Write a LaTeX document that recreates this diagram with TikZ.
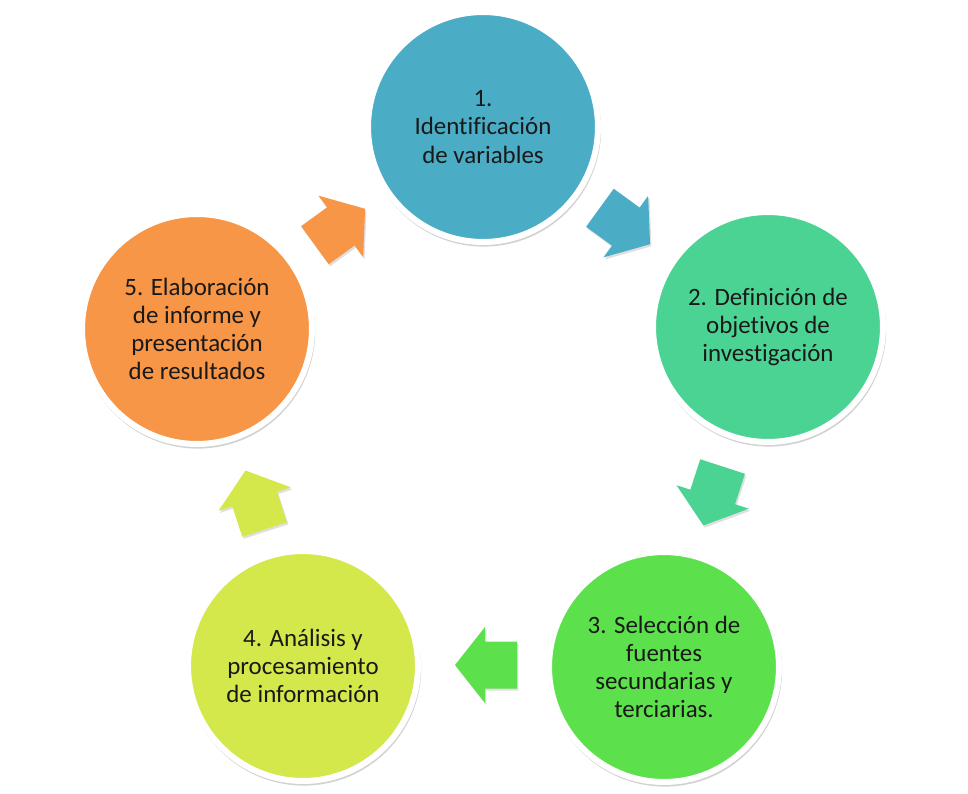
\documentclass[tikz,border=0pt]{standalone}
\usepackage{fontspec}
\setmainfont[Ligatures=NoCommon]{Carlito}
\usetikzlibrary{shadows}

\definecolor{stageone}{HTML}{4BACC6}
\definecolor{stagetwo}{HTML}{4BD394}
\definecolor{stagethree}{HTML}{5CE04C}
\definecolor{stagefour}{HTML}{D4E84B}
\definecolor{stagefive}{HTML}{F79646}

\tikzset{
  stage/.style={circle, draw=white, line width=0.12cm, minimum size=4.6cm,
    inner sep=0pt, align=center, text=black!90,
    font=\fontsize{14.2}{16}\selectfont,
    drop shadow={opacity=0.35, shadow scale=1.02, shadow xshift=0.5pt, shadow yshift=-1.3pt}},
  cyclearrow/.pic={
    \fill[pic actions, drop shadow={opacity=0.25, shadow xshift=0.8pt, shadow yshift=-1.2pt}]
      (-31,-23.5) -- (1,-23.5) -- (1,-38) -- (31,0) -- (1,38) -- (1,23.5) -- (-31,23.5) -- cycle;}
}

\begin{document}
\begin{tikzpicture}[x=0.02cm, y=-0.02cm]
  \fill[white] (0,0) rectangle (968,794);
  \useasboundingbox (0,0) rectangle (968,794);
  % the five stages
  \node[stage, fill=stageone] (s1) at (483,127) {1.\\Identificación\\de variables};
  \node[stage, fill=stagetwo] (s2) at (768,327) {2. Definición de\\objetivos de\\investigación};
  \node[stage, fill=stagethree] (s3) at (664,667) {3. Selección de\\fuentes\\secundarias y\\terciarias.};
  \node[stage, fill=stagefour] (s4) at (303,666) {4. Análisis y\\procesamiento\\de información};
  \node[stage, fill=stagefive] (s5) at (197,329) {5. Elaboración\\de informe y\\presentación\\de resultados};
  % block arrows between the stages
  \pic[fill=stageone, rotate=-36] at (625,226) {cyclearrow};
  \pic[fill=stagetwo, rotate=-108] at (713,496) {cyclearrow};
  \pic[fill=stagethree, rotate=180] at (486,665) {cyclearrow};
  \pic[fill=stagefour, rotate=108] at (255,500) {cyclearrow};
  \pic[fill=stagefive, rotate=36] at (340,227) {cyclearrow};
\end{tikzpicture}
\end{document}
